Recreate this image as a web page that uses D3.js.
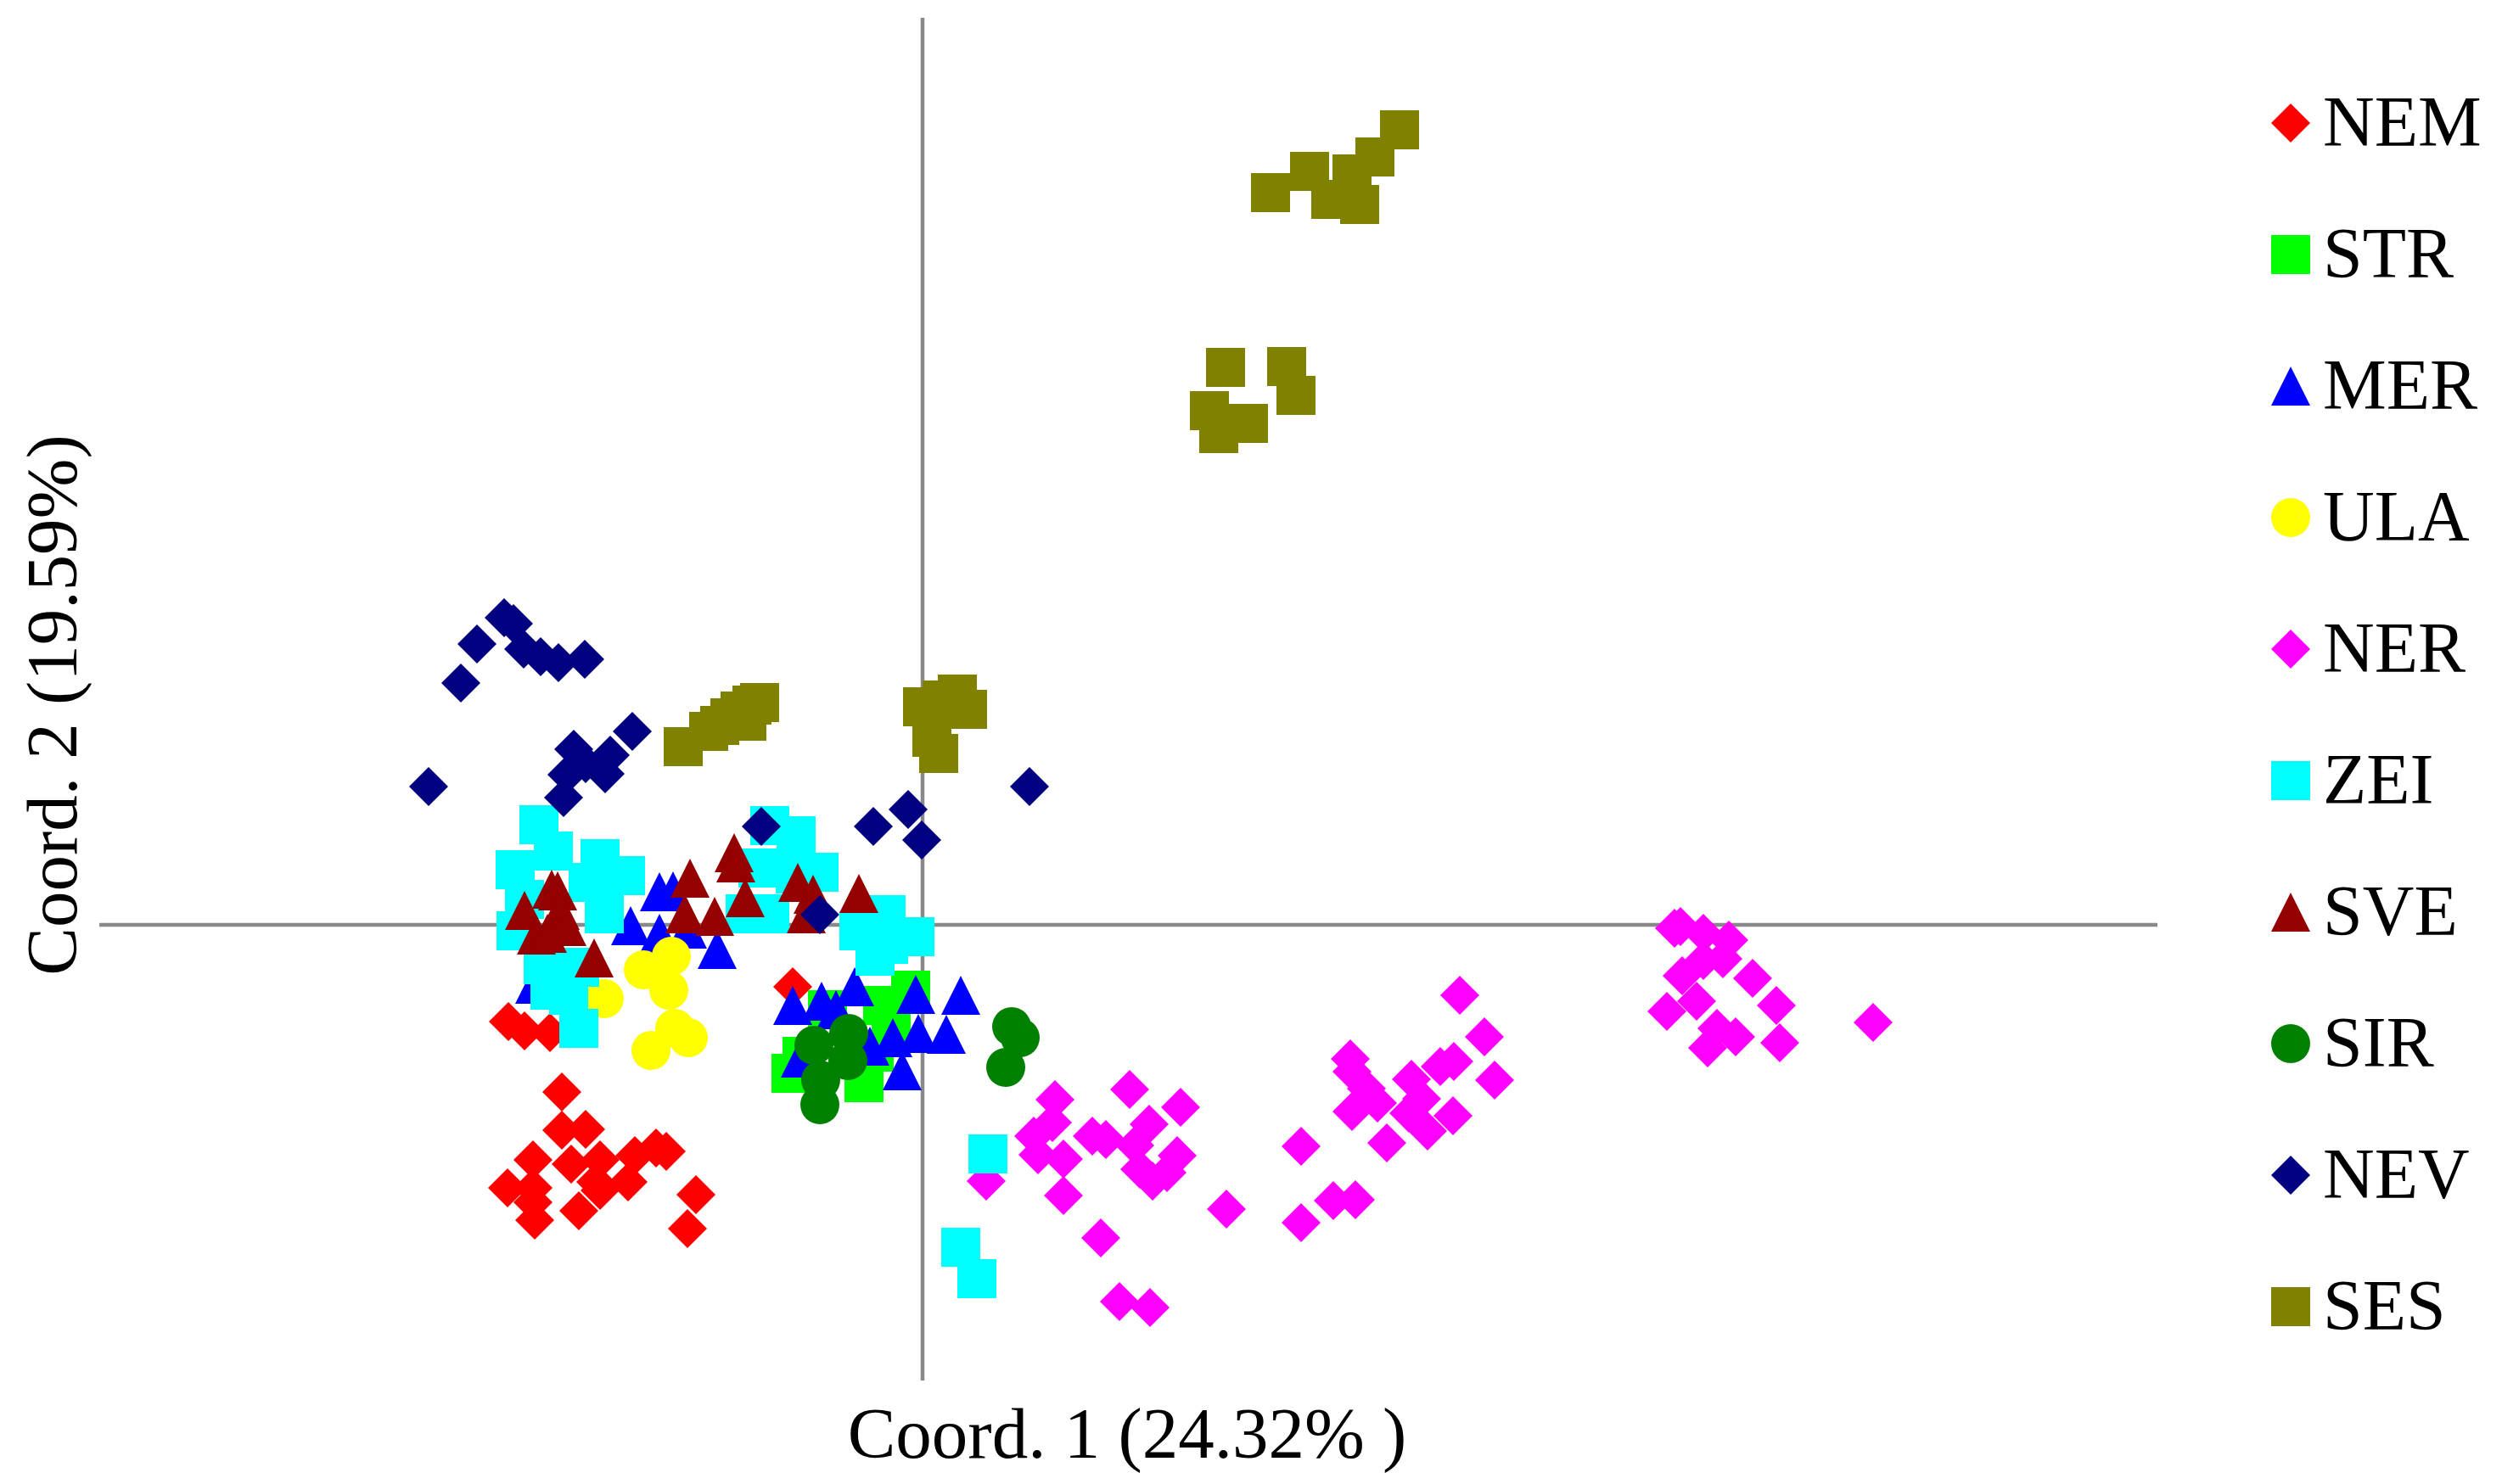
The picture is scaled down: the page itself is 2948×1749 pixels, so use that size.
<!DOCTYPE html>
<html>
<head>
<meta charset="utf-8">
<script src="https://cdn.jsdelivr.net/npm/d3@7"></script>
<style>
html,body{margin:0;padding:0;background:#fff;}
svg{display:block;}
text{font-family:"Liberation Serif","Times New Roman",serif;fill:#000;}
</style>
</head>
<body>
<svg id="chart" width="2948" height="1749"></svg>
<script>
// ---- data ----
const categories = ["NEM","STR","MER","ULA","NER","ZEI","SVE","SIR","NEV","SES"];
const colors = ["#FF0000","#00FF00","#0000FF","#FFFF00","#FF00FF","#00FFFF","#950000","#008000","#000080","#818100"];
const shapes = ["diamond","square","triangle","circle","diamond","square","triangle","circle","diamond","square"];
const xTitle = "Coord. 1 (24.32% )";
const yTitle = "Coord. 2 (19.59%)";
const xDomain = [-0.970, 1.455];
const yDomain = [-0.537, 1.069];

const NEM = [[-0.488,-0.114],[-0.469,-0.125],[-0.439,-0.127],[-0.425,-0.197],[-0.425,-0.242],[-0.397,-0.241],
  [-0.459,-0.277],[-0.414,-0.282],[-0.380,-0.277],[-0.385,-0.303],[-0.347,-0.303],[-0.339,-0.272],[-0.314,-0.263],
  [-0.302,-0.267],[-0.489,-0.310],[-0.459,-0.310],[-0.459,-0.327],[-0.457,-0.348],[-0.405,-0.337],[-0.380,-0.313],
  [-0.267,-0.318],[-0.277,-0.358],[-0.153,-0.073]];
const STR = [[-0.155,-0.175],[-0.142,-0.155],[-0.069,-0.186],[-0.014,-0.077],[-0.047,-0.095],[-0.037,-0.120],
  [-0.112,-0.100],[-0.057,-0.150]];
const MER = [[-0.310,0.039],[-0.294,0.040],[-0.344,-0.001],[-0.310,-0.010],[-0.277,-0.005],[-0.242,-0.029],
  [-0.457,-0.070],[-0.153,-0.095],[-0.119,-0.090],[-0.080,-0.073],[-0.102,-0.100],[-0.008,-0.082],[0.045,-0.083],
  [-0.035,-0.133],[-0.005,-0.128],[0.028,-0.129],[-0.024,-0.172],[-0.062,-0.143],[-0.144,-0.157]];
const ULA = [[-0.375,-0.087],[-0.329,-0.053],[-0.296,-0.037],[-0.299,-0.077],[-0.292,-0.122],[-0.276,-0.133],
  [-0.320,-0.148]];
const NER = [[0.075,-0.302],[0.156,-0.206],[0.153,-0.233],[0.131,-0.249],[0.136,-0.271],[0.166,-0.276],[0.166,-0.319],
  [0.200,-0.249],[0.216,-0.253],[0.244,-0.194],[0.267,-0.235],[0.250,-0.260],[0.304,-0.215],[0.300,-0.272],
  [0.256,-0.288],[0.271,-0.302],[0.288,-0.292],[0.210,-0.369],[0.232,-0.444],[0.268,-0.451],[0.358,-0.335],
  [0.446,-0.261],[0.446,-0.351],[0.484,-0.325],[0.510,-0.324],[0.504,-0.158],[0.506,-0.173],[0.523,-0.193],
  [0.506,-0.220],[0.536,-0.210],[0.576,-0.182],[0.588,-0.205],[0.573,-0.222],[0.595,-0.243],[0.625,-0.225],
  [0.547,-0.257],[0.633,-0.083],[0.662,-0.132],[0.626,-0.161],[0.610,-0.167],[0.674,-0.183],
  [0.886,-0.004],[0.893,-0.002],[0.920,-0.010],[0.950,-0.018],[0.943,-0.040],[0.920,-0.042],[0.895,-0.060],
  [0.912,-0.090],[0.877,-0.102],[0.978,-0.063],[1.006,-0.095],[0.936,-0.122],[0.958,-0.132],[0.925,-0.145],
  [1.010,-0.139],[1.120,-0.115]];
const ZEI = [[-0.452,0.118],[-0.435,0.087],[-0.380,0.078],[-0.480,0.065],[-0.350,0.058],[-0.394,0.050],
  [-0.469,0.030],[-0.479,-0.007],[-0.375,0.013],[-0.447,-0.047],[-0.404,-0.050],[-0.439,-0.077],[-0.417,-0.083],
  [-0.405,-0.122],[-0.180,0.117],[-0.149,0.105],[-0.194,0.067],[-0.122,0.062],[-0.150,0.060],[-0.209,0.013],
  [-0.180,0.013],[-0.043,0.012],[-0.075,-0.007],[-0.009,-0.014],[-0.056,-0.037],[-0.040,-0.023],
  [0.077,-0.270],[0.045,-0.380],[0.064,-0.417]];
const SVE = [[-0.437,0.042],[-0.430,0.040],[-0.469,0.017],[-0.427,0.017],[-0.455,-0.012],[-0.442,-0.010],
  [-0.419,-0.002],[-0.387,-0.039],[-0.274,0.055],[-0.280,0.013],[-0.245,0.010],[-0.222,0.085],[-0.220,0.073],
  [-0.209,0.032],[-0.147,0.050],[-0.129,0.036],[-0.137,0.013],[-0.075,0.037]];
const SIR = [[-0.128,-0.142],[-0.087,-0.128],[-0.088,-0.160],[-0.120,-0.183],[-0.121,-0.212],[0.105,-0.120],
  [0.115,-0.133],[0.098,-0.168]];
const NEV = [[-0.582,0.163],[-0.544,0.285],[-0.525,0.331],[-0.493,0.362],[-0.482,0.355],[-0.470,0.325],
  [-0.450,0.316],[-0.429,0.309],[-0.398,0.313],[-0.342,0.228],[-0.411,0.207],[-0.397,0.190],[-0.368,0.200],
  [-0.374,0.178],[-0.419,0.177],[-0.423,0.150],[-0.190,0.116],[-0.058,0.116],[-0.017,0.136],[-0.001,0.100],
  [-0.121,0.012],[0.126,0.163]];
const SES = [[-0.282,0.210],[-0.252,0.228],[-0.239,0.235],[-0.227,0.244],[-0.215,0.252],[-0.201,0.259],
  [-0.192,0.262],[-0.207,0.240],[0.000,0.257],[0.023,0.265],[0.041,0.272],[0.053,0.254],[0.011,0.221],
  [0.019,0.202],[0.562,0.937],[0.533,0.905],[0.456,0.888],[0.506,0.885],[0.410,0.863],[0.481,0.855],
  [0.515,0.849],[0.357,0.657],[0.429,0.658],[0.440,0.624],[0.338,0.606],[0.384,0.591],[0.349,0.579]];
const seriesValues = [NEM, STR, MER, ULA, NER, ZEI, SVE, SIR, NEV, SES];

// ---- drawing ----
const svg = d3.select("#chart");
const x = d3.scaleLinear().domain(xDomain).range([117, 2542]);
const y = d3.scaleLinear().domain(yDomain).range([1627, 21]);
const M = 23; // half marker size

function shapePath(s) {
  if (s === "diamond") return `M0,${-M}L${M},0L0,${M}L${-M},0Z`;
  if (s === "square") return `M${-M},${-M}H${M}V${M}H${-M}Z`;
  if (s === "triangle") return `M0,${-M}L${M},${M}L${-M},${M}Z`;
  return d3.path ? (() => { const p = d3.path(); p.arc(0, 0, M, 0, 2 * Math.PI); p.closePath(); return p.toString(); })() : "";
}

// axis cross lines
svg.append("line")
  .attr("x1", x(xDomain[0])).attr("x2", x(xDomain[1]))
  .attr("y1", y(0)).attr("y2", y(0))
  .attr("stroke", "#898989").attr("stroke-width", 4.5);
svg.append("line")
  .attr("x1", x(0)).attr("x2", x(0))
  .attr("y1", y(yDomain[0])).attr("y2", y(yDomain[1]))
  .attr("stroke", "#898989").attr("stroke-width", 4.5);

// markers
const plot = svg.append("g");
categories.forEach((c, i) => {
  plot.append("g").attr("class", "series-" + c)
    .selectAll("path").data(seriesValues[i]).join("path")
    .attr("d", shapePath(shapes[i]))
    .attr("transform", d => `translate(${x(d[0])},${y(d[1])})`)
    .attr("fill", colors[i]);
});

// axis titles
svg.append("text")
  .attr("x", 1328).attr("y", 1718)
  .attr("text-anchor", "middle")
  .attr("font-size", 85)
  .text(xTitle);
svg.append("text")
  .attr("transform", "translate(90,831) rotate(-90)")
  .attr("text-anchor", "middle")
  .attr("font-size", 85)
  .text(yTitle);

// legend
const legend = svg.append("g").attr("transform", "translate(2699,145)");
categories.forEach((c, i) => {
  const g = legend.append("g").attr("transform", `translate(0,${i * 155})`);
  g.append("path").attr("d", shapePath(shapes[i])).attr("fill", colors[i]);
  g.append("text").attr("x", 38).attr("y", 27).attr("font-size", 84).text(c);
});
</script>
</body>
</html>
